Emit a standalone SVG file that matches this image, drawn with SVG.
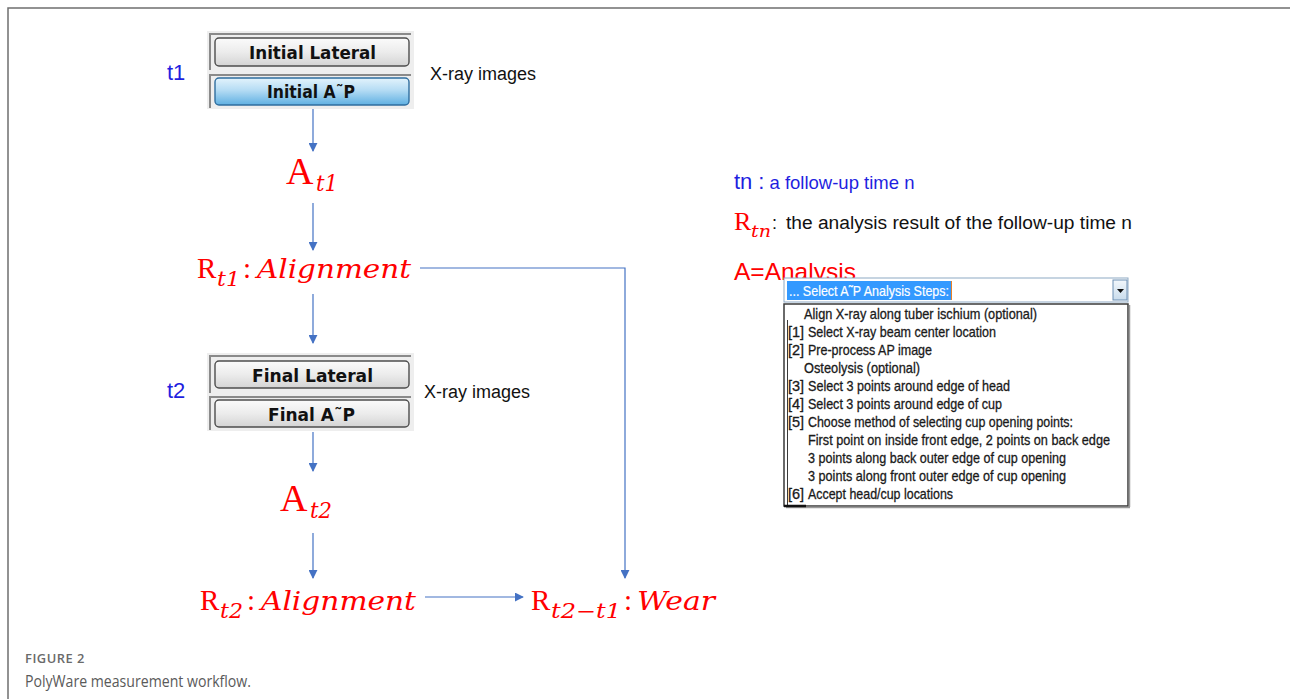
<svg xmlns="http://www.w3.org/2000/svg" width="1290" height="699" viewBox="0 0 1290 699">
  <defs>
    <linearGradient id="btnGrey" x1="0" y1="0" x2="0" y2="1">
      <stop offset="0" stop-color="#fbfbfb"/>
      <stop offset="0.5" stop-color="#ececec"/>
      <stop offset="1" stop-color="#d4d4d4"/>
    </linearGradient>
    <linearGradient id="btnBlue" x1="0" y1="0" x2="0" y2="1">
      <stop offset="0" stop-color="#e3f3fc"/>
      <stop offset="0.45" stop-color="#b5dcf4"/>
      <stop offset="1" stop-color="#5fb0e2"/>
    </linearGradient>
    <linearGradient id="dropBtn" x1="0" y1="0" x2="0" y2="1">
      <stop offset="0" stop-color="#f2f7fb"/>
      <stop offset="1" stop-color="#c9dcec"/>
    </linearGradient>
    <marker id="arrow" viewBox="0 0 10 10" refX="9" refY="5" markerWidth="9" markerHeight="9" markerUnits="userSpaceOnUse" orient="auto">
      <path d="M0,0 L10,5 L0,10 z" fill="#4472c4"/>
    </marker>
    <style>
      .frame { stroke: #6f6f6f; stroke-width: 1.5; fill: none; }
      .conn { stroke: #4472c4; stroke-width: 1.2; fill: none; }
      .panel { fill: #eeeeee; }
      .bevel { stroke: #8a8a8a; stroke-width: 2; fill: none; }
      .btn { stroke: #4d4d4d; stroke-width: 1.4; }
      .btnBlueEdge { stroke: #2f6e9f; stroke-width: 1.4; }
      .btnText { font-family: "DejaVu Sans", "Liberation Sans", sans-serif; font-weight: bold; font-size: 18px; fill: #111; }
      .tlabel { font-family: "Liberation Sans", Arial, sans-serif; font-size: 22px; fill: #1f1fe0; }
      .note { font-family: "Liberation Sans", Arial, sans-serif; font-size: 18px; fill: #111; }
      .math { font-family: "Liberation Serif", "DejaVu Serif", serif; fill: #ff0000; }
      .it { font-family: "DejaVu Serif", "Liberation Serif", serif; font-style: italic; }
      .list { font-family: "Liberation Sans Narrow", "Liberation Sans", Arial, sans-serif; font-size: 14.5px; fill: #1a1a1a; stroke: #1a1a1a; stroke-width: 0.3; }
      .cap1 { font-family: "Open Sans", "Noto Sans", sans-serif; font-weight: 600; font-size: 12.5px; fill: #6a6a6a; letter-spacing: 0.5px; }
      .cap2 { font-family: "Open Sans", "Noto Sans", sans-serif; font-size: 17px; fill: #5a5a5a; }
    </style>
  </defs>

  <!-- page frame -->
  <path class="frame" d="M8,699 V8 H1290"/>

  <!-- time point 1: image buttons -->
  <g id="node-t1-images">
    <text class="tlabel" x="167" y="80">t1</text>
    <rect class="panel" x="207" y="31" width="207" height="78"/>
    <path class="bevel" d="M210,70 V34 H411"/>
    <path class="bevel" d="M210,108 V75 H411"/>
    <rect class="btn" x="215" y="38" width="194" height="28" rx="4" fill="url(#btnGrey)"/>
    <rect class="btnBlueEdge" x="215" y="78" width="194" height="27" rx="4" fill="url(#btnBlue)"/>
    <text class="btnText" x="249" y="59" textLength="127" lengthAdjust="spacingAndGlyphs">Initial Lateral</text>
    <text class="btnText" x="267" y="98" textLength="88" lengthAdjust="spacingAndGlyphs">Initial A˜P</text>
    <text class="note" x="430" y="80">X-ray images</text>
  </g>

  <!-- analysis at t1 -->
  <g id="node-A-t1">
    <text class="math" x="286" y="184" font-size="38">A</text>
    <text class="math it" x="316" y="191" font-size="23" textLength="22" lengthAdjust="spacingAndGlyphs">t1</text>
  </g>

  <!-- result at t1 -->
  <g id="node-R-t1">
    <text class="math" x="197" y="278" font-size="29">R</text>
    <text class="math it" x="217" y="286" font-size="20" textLength="23" lengthAdjust="spacingAndGlyphs">t1</text>
    <text class="math" x="243" y="278" font-size="29">:</text>
    <text class="math it" x="257" y="278" font-size="26" textLength="154" lengthAdjust="spacingAndGlyphs">Alignment</text>
  </g>

  <!-- time point 2: image buttons -->
  <g id="node-t2-images">
    <text class="tlabel" x="167" y="398">t2</text>
    <rect class="panel" x="207" y="353" width="207" height="78"/>
    <path class="bevel" d="M210,393 V356 H411"/>
    <path class="bevel" d="M210,430 V397 H411"/>
    <rect class="btn" x="215" y="361" width="194" height="27" rx="4" fill="url(#btnGrey)"/>
    <rect class="btn" x="215" y="400" width="194" height="27" rx="4" fill="url(#btnGrey)"/>
    <text class="btnText" x="252" y="382" textLength="121" lengthAdjust="spacingAndGlyphs">Final Lateral</text>
    <text class="btnText" x="268" y="421" textLength="87" lengthAdjust="spacingAndGlyphs">Final A˜P</text>
    <text class="note" x="424" y="398">X-ray images</text>
  </g>

  <!-- analysis at t2 -->
  <g id="node-A-t2">
    <text class="math" x="280" y="511" font-size="38">A</text>
    <text class="math it" x="310" y="518" font-size="23" textLength="22" lengthAdjust="spacingAndGlyphs">t2</text>
  </g>

  <!-- result at t2 -->
  <g id="node-R-t2">
    <text class="math" x="200" y="610" font-size="29">R</text>
    <text class="math it" x="220" y="618" font-size="20" textLength="23" lengthAdjust="spacingAndGlyphs">t2</text>
    <text class="math" x="247" y="610" font-size="29">:</text>
    <text class="math it" x="261" y="610" font-size="26" textLength="155" lengthAdjust="spacingAndGlyphs">Alignment</text>
  </g>

  <!-- wear result -->
  <g id="node-R-wear">
    <text class="math" x="531" y="610" font-size="29">R</text>
    <text class="math it" x="551" y="618" font-size="20" textLength="70" lengthAdjust="spacingAndGlyphs">t2−t1</text>
    <text class="math" x="624" y="610" font-size="29">:</text>
    <text class="math it" x="637" y="610" font-size="26" textLength="78" lengthAdjust="spacingAndGlyphs">Wear</text>
  </g>

  <!-- legend -->
  <g id="legend">
    <text x="734" y="189" font-family="Liberation Sans, Arial, sans-serif" fill="#1f1fe0"><tspan font-size="22">tn</tspan><tspan font-size="22" dx="6">:</tspan><tspan font-size="18.5" dx="5">a follow-up time n</tspan></text>
    <text class="math" x="734" y="230" font-size="26">R</text>
    <text class="math it" x="751" y="237" font-size="17" textLength="20" lengthAdjust="spacingAndGlyphs">tn</text>
    <text class="note" x="772" y="229" font-size="20">:</text>
    <text class="note" x="786" y="229" textLength="346" lengthAdjust="spacingAndGlyphs">the analysis result of the follow-up time n</text>
    <text x="734" y="280" font-family="Liberation Sans, Arial, sans-serif" font-size="24.5" fill="#ff0000">A=Analysis</text>
  </g>

  <!-- analysis steps drop-down -->
  <g id="steps-list">
    <rect x="784" y="278" width="344" height="24" fill="#ffffff" stroke="#8ea9c4" stroke-width="1"/>
    <rect x="787" y="281" width="164" height="19" fill="#3399ff"/>
    <line x1="951.5" y1="281" x2="951.5" y2="300" stroke="#e8822a" stroke-width="1"/>
    <text class="list" x="789" y="296" style="fill:#ffffff;stroke:#ffffff;stroke-width:0.2" textLength="160" lengthAdjust="spacingAndGlyphs">... Select A˜P Analysis Steps:</text>
    <rect x="1113" y="280" width="14" height="20" fill="url(#dropBtn)" stroke="#6d8fb3" stroke-width="1"/>
    <path d="M1117,289 H1124 L1120.5,293 z" fill="#111"/>

    <rect x="784" y="304" width="344" height="202" fill="#ffffff" stroke="#3a3a3a" stroke-width="1.5"/>
    <line x1="1129.5" y1="305" x2="1129.5" y2="507" stroke="#9a9a9a" stroke-width="1.5"/>
    <line x1="786" y1="507.5" x2="1130" y2="507.5" stroke="#9a9a9a" stroke-width="1.5"/>
    <line x1="787.5" y1="320" x2="787.5" y2="505" stroke="#3a3a3a" stroke-width="1"/>
    <line x1="784" y1="506" x2="806" y2="506" stroke="#111" stroke-width="2.5"/>

    <text class="list" x="804" y="319" textLength="233" lengthAdjust="spacingAndGlyphs">Align X-ray along tuber ischium (optional)</text>
    <text class="list" x="788" y="337">[1]</text>
    <text class="list" x="808" y="337" textLength="188" lengthAdjust="spacingAndGlyphs">Select X-ray beam center location</text>
    <text class="list" x="788" y="355">[2]</text>
    <text class="list" x="808" y="355" textLength="124" lengthAdjust="spacingAndGlyphs">Pre-process AP image</text>
    <text class="list" x="804" y="373" textLength="116" lengthAdjust="spacingAndGlyphs">Osteolysis (optional)</text>
    <text class="list" x="788" y="391">[3]</text>
    <text class="list" x="808" y="391" textLength="202" lengthAdjust="spacingAndGlyphs">Select 3 points around edge of head</text>
    <text class="list" x="788" y="409">[4]</text>
    <text class="list" x="808" y="409" textLength="194" lengthAdjust="spacingAndGlyphs">Select 3 points around edge of cup</text>
    <text class="list" x="788" y="427">[5]</text>
    <text class="list" x="808" y="427" textLength="265" lengthAdjust="spacingAndGlyphs">Choose method of selecting cup opening points:</text>
    <text class="list" x="808" y="445" textLength="302" lengthAdjust="spacingAndGlyphs">First point on inside front edge, 2 points on back edge</text>
    <text class="list" x="808" y="463" textLength="258" lengthAdjust="spacingAndGlyphs">3 points along back outer edge of cup opening</text>
    <text class="list" x="808" y="481" textLength="258" lengthAdjust="spacingAndGlyphs">3 points along front outer edge of cup opening</text>
    <text class="list" x="788" y="499">[6]</text>
    <text class="list" x="808" y="499" textLength="145" lengthAdjust="spacingAndGlyphs">Accept head/cup locations</text>
  </g>

  <!-- connectors -->
  <g id="connectors">
    <line class="conn" x1="313" y1="109" x2="313" y2="151" marker-end="url(#arrow)"/>
    <line class="conn" x1="313" y1="203" x2="313" y2="250" marker-end="url(#arrow)"/>
    <line class="conn" x1="313" y1="294" x2="313" y2="343" marker-end="url(#arrow)"/>
    <line class="conn" x1="313" y1="432" x2="313" y2="471" marker-end="url(#arrow)"/>
    <line class="conn" x1="313" y1="533" x2="313" y2="578" marker-end="url(#arrow)"/>
    <path class="conn" d="M420,268 H625 V578" marker-end="url(#arrow)"/>
    <line class="conn" x1="425" y1="597" x2="523" y2="597" marker-end="url(#arrow)"/>
  </g>

  <!-- caption -->
  <g id="caption">
    <text class="cap1" x="25" y="663" textLength="60" lengthAdjust="spacingAndGlyphs">FIGURE 2</text>
    <text class="cap2" x="25" y="687" textLength="226" lengthAdjust="spacingAndGlyphs">PolyWare measurement workflow.</text>
  </g>
</svg>
